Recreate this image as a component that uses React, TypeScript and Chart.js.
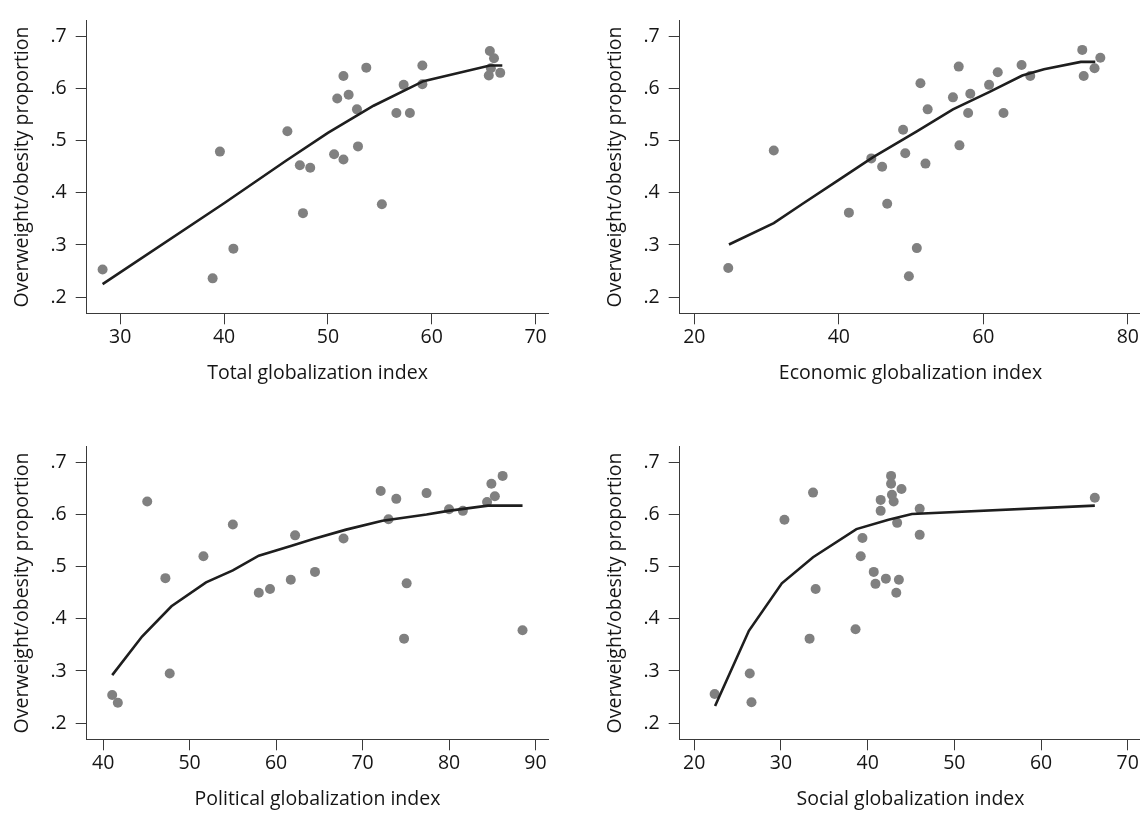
import React, { useEffect, useRef } from 'react';
import { Chart, registerables } from 'chart.js';

Chart.register(...registerables);

// ---------- shared y axis ----------
const yTickValues = [0.2, 0.3, 0.4, 0.5, 0.6, 0.7];
const yTickLabels = ['.2', '.3', '.4', '.5', '.6', '.7'];
const yMin = 0.169;
const yMax = 0.73;
const yTitle = 'Overweight/obesity proportion';

// ---------- Total globalization ----------
const totalTitle = 'Total globalization index';
const totalTicks = [30, 40, 50, 60, 70];
const totalRange = [26.77, 71.23];
const totalX = [28.3, 38.9, 39.6, 40.9, 46.1, 47.3, 47.6, 48.3, 50.6, 50.9, 51.5, 51.5, 52.0, 52.8, 52.9, 53.7, 55.2, 56.6, 57.3, 57.9, 59.1, 59.1, 65.6, 66.0, 65.7, 65.5, 66.6];
const totalY = [0.253, 0.236, 0.479, 0.293, 0.518, 0.453, 0.361, 0.448, 0.474, 0.581, 0.624, 0.464, 0.588, 0.560, 0.489, 0.640, 0.378, 0.553, 0.607, 0.553, 0.644, 0.608, 0.672, 0.658, 0.639, 0.625, 0.630];
const totalFitX = [28.3, 40.0, 46.0, 50.0, 54.4, 59.2, 65.6, 66.8];
const totalFitY = [0.225, 0.380, 0.462, 0.515, 0.567, 0.614, 0.644, 0.644];

// ---------- Economic globalization ----------
const econTitle = 'Economic globalization index';
const econTicks = [20, 40, 60, 80];
const econRange = [17.98, 81.87];
const econX = [24.7, 31.0, 41.4, 44.5, 46.0, 46.7, 48.9, 49.2, 49.7, 50.8, 51.3, 52.0, 52.3, 55.8, 56.6, 56.7, 57.9, 58.2, 60.8, 62.0, 62.8, 65.3, 66.5, 73.7, 73.9, 75.4, 76.2];
const econY = [0.256, 0.481, 0.362, 0.466, 0.450, 0.379, 0.521, 0.476, 0.240, 0.294, 0.610, 0.456, 0.560, 0.583, 0.642, 0.491, 0.553, 0.590, 0.607, 0.631, 0.553, 0.645, 0.624, 0.674, 0.624, 0.639, 0.659];
const econFitX = [24.8, 31.0, 35.1, 39.9, 44.7, 50.8, 55.8, 60.8, 65.4, 68.4, 73.5, 75.5];
const econFitY = [0.301, 0.342, 0.380, 0.424, 0.468, 0.518, 0.560, 0.593, 0.625, 0.637, 0.651, 0.651];

// ---------- Political globalization ----------
const polTitle = 'Political globalization index';
const polTicks = [40, 50, 60, 70, 80, 90];
const polRange = [38.1, 91.48];
const polX = [41.05, 41.7, 45.1, 47.2, 47.7, 51.6, 55.0, 58.0, 59.3, 61.7, 62.2, 64.5, 67.8, 72.1, 73.0, 73.9, 74.8, 75.1, 77.4, 80.0, 81.6, 84.4, 84.9, 85.3, 86.2, 88.5];
const polY = [0.254, 0.239, 0.625, 0.478, 0.295, 0.520, 0.581, 0.450, 0.457, 0.475, 0.560, 0.490, 0.554, 0.645, 0.591, 0.630, 0.362, 0.468, 0.641, 0.610, 0.607, 0.624, 0.659, 0.635, 0.674, 0.378];
const polFitX = [41.05, 44.5, 47.9, 51.9, 55.0, 58.0, 61.8, 64.3, 68.1, 72.3, 77.4, 79.9, 84.5, 88.5];
const polFitY = [0.292, 0.366, 0.424, 0.470, 0.493, 0.521, 0.540, 0.553, 0.571, 0.588, 0.600, 0.607, 0.617, 0.617];

// ---------- Social globalization ----------
const socTitle = 'Social globalization index';
const socTicks = [20, 30, 40, 50, 60, 70];
const socRange = [18.32, 71.56];
const socX = [22.35, 26.4, 26.6, 30.4, 33.3, 33.7, 34.0, 38.6, 39.2, 39.4, 40.7, 40.9, 41.5, 41.5, 42.1, 42.7, 42.7, 42.8, 43.0, 43.3, 43.4, 43.6, 43.9, 46.0, 46.0, 66.2];
const socY = [0.256, 0.295, 0.240, 0.590, 0.362, 0.642, 0.457, 0.380, 0.520, 0.555, 0.490, 0.467, 0.628, 0.607, 0.477, 0.674, 0.659, 0.638, 0.625, 0.450, 0.584, 0.475, 0.649, 0.611, 0.561, 0.632];
const socFitX = [22.4, 26.3, 30.1, 33.7, 38.7, 42.4, 45.1, 66.2];
const socFitY = [0.233, 0.377, 0.468, 0.518, 0.572, 0.590, 0.601, 0.617];

// ---------- layout / style ----------
const FONT = '"Open Sans", Lato, sans-serif';
const FONT_SIZE = 19.5;
const CANVAS_W = 570;
const CANVAS_H = 400;
const AXIS_W = 86.7;
const AXIS_H = 86.7;
const PAD_TOP = 15;
const PAD_RIGHT = 21.7;
const AXIS_COLOR = '#3a3a3a';
const TEXT_COLOR = '#151515';
const DOT_COLOR = '#808080';
const LINE_COLOR = '#1e1e1e';

type PanelProps = {
  xs: number[];
  ys: number[];
  fitX: number[];
  fitY: number[];
  ticks: number[];
  range: number[];
  title: string;
  left: number;
  top: number;
};

function Panel({ xs, ys, fitX, fitY, ticks, range, title, left, top }: PanelProps) {
  const ref = useRef<HTMLCanvasElement>(null);
  useEffect(() => {
    if (!ref.current) return;
    const chart = new Chart(ref.current, {
      type: 'scatter',
      data: {
        datasets: [
          {
            data: fitX.map((x, i) => ({ x, y: fitY[i] })),
            showLine: true,
            borderColor: LINE_COLOR,
            borderWidth: 2.6,
            pointRadius: 0,
            tension: 0,
            fill: false,
            order: 0,
          } as any,
          {
            data: xs.map((x, i) => ({ x, y: ys[i] })),
            backgroundColor: DOT_COLOR,
            borderWidth: 0,
            pointRadius: 5,
            order: 1,
          } as any,
        ],
      },
      options: {
        animation: false,
        responsive: false,
        events: [],
        layout: { padding: { left: 0, top: PAD_TOP, right: PAD_RIGHT, bottom: 0 } },
        plugins: { legend: { display: false }, tooltip: { enabled: false } },
        scales: {
          x: {
            type: 'linear',
            position: 'bottom',
            min: range[0],
            max: range[1],
            afterBuildTicks: (s: any) => {
              s.ticks = ticks.map((v) => ({ value: v }));
            },
            afterFit: (s: any) => {
              s.height = AXIS_H;
            },
            ticks: {
              color: TEXT_COLOR,
              font: { family: FONT, size: FONT_SIZE },
              padding: 1.5,
              maxRotation: 0,
              callback: (v: any) => String(v),
            },
            grid: { drawOnChartArea: false, drawTicks: true, tickLength: 11, color: AXIS_COLOR, lineWidth: 1 },
            border: { display: true, color: AXIS_COLOR, width: 1 },
            title: {
              display: true,
              text: title,
              color: TEXT_COLOR,
              font: { family: FONT, size: FONT_SIZE },
              padding: { top: 0, bottom: 15 },
            },
          },
          y: {
            type: 'linear',
            position: 'left',
            min: yMin,
            max: yMax,
            afterBuildTicks: (s: any) => {
              s.ticks = yTickValues.map((v) => ({ value: v }));
            },
            afterFit: (s: any) => {
              s.width = AXIS_W;
            },
            ticks: {
              color: TEXT_COLOR,
              font: { family: FONT, size: FONT_SIZE },
              padding: 9,
              callback: (v: any) => {
                const i = yTickValues.findIndex((t) => Math.abs(t - Number(v)) < 1e-6);
                return i >= 0 ? yTickLabels[i] : '';
              },
            },
            grid: { drawOnChartArea: false, drawTicks: true, tickLength: 11, color: AXIS_COLOR, lineWidth: 1 },
            border: { display: true, color: AXIS_COLOR, width: 1 },
            title: {
              display: true,
              text: yTitle,
              color: TEXT_COLOR,
              font: { family: FONT, size: FONT_SIZE },
              padding: { top: 10.5, bottom: 0 },
            },
          },
        },
      },
    });
    return () => chart.destroy();
  }, []);
  return (
    <canvas
      ref={ref}
      width={CANVAS_W}
      height={CANVAS_H}
      style={{ position: 'absolute', left, top, width: CANVAS_W, height: CANVAS_H }}
    />
  );
}

export default function App() {
  return (
    <div
      style={{
        position: 'absolute',
        left: 0,
        top: 0,
        width: 1140,
        height: 813,
        overflow: 'hidden',
        background: '#ffffff',
      }}
    >
      <Panel xs={totalX} ys={totalY} fitX={totalFitX} fitY={totalFitY} ticks={totalTicks} range={totalRange} title={totalTitle} left={0} top={0} />
      <Panel xs={econX} ys={econY} fitX={econFitX} fitY={econFitY} ticks={econTicks} range={econRange} title={econTitle} left={592.6} top={0} />
      <Panel xs={polX} ys={polY} fitX={polFitX} fitY={polFitY} ticks={polTicks} range={polRange} title={polTitle} left={0} top={425.7} />
      <Panel xs={socX} ys={socY} fitX={socFitX} fitY={socFitY} ticks={socTicks} range={socRange} title={socTitle} left={592.6} top={425.7} />
    </div>
  );
}
